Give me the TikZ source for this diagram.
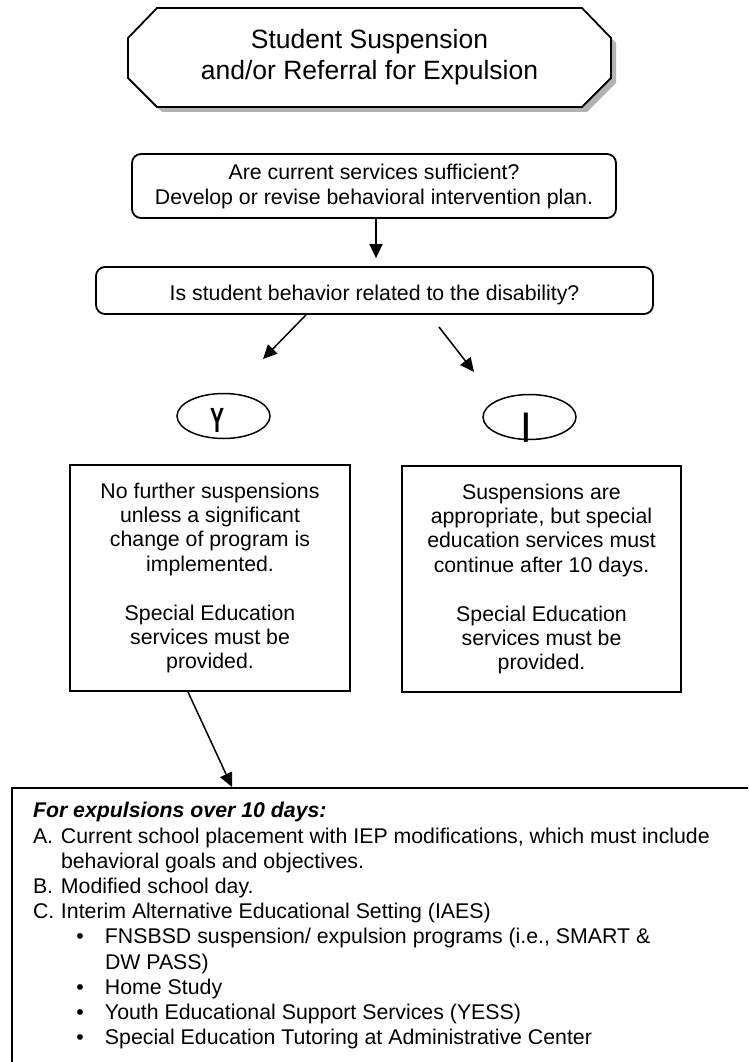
\documentclass[tikz,border=0pt]{standalone}
\usepackage{fontspec}
\setmainfont{Liberation Sans}
\usetikzlibrary{arrows.meta,calc,shapes.geometric}
\begin{document}
\begin{tikzpicture}[x=1pt,y=-1pt,
  rbox/.style={draw, line width=1.8pt, rounded corners=9pt, fill=white, inner sep=0pt, align=center, font=\fontsize{21.3pt}{25pt}\selectfont},
  sbox/.style={draw, line width=2pt, inner sep=0pt, align=center, minimum width=280pt, minimum height=226pt, font=\fontsize{21.3pt}{24.4pt}\selectfont},
  oval/.style={draw, ellipse, line width=1.5pt, minimum width=93pt, minimum height=45pt, inner sep=0pt},
  arr/.style={line width=1.5pt, -{Triangle[length=14pt,width=13pt]}},
  octline/.style={draw, line width=1.8pt, fill=white},
  shadowfill/.style={fill=gray!60},
]
\useasboundingbox (0,0) rectangle (748,1062);
\clip (0,0) rectangle (748,1062);

% title octagon with shadow
\begin{scope}[shift={(5,5)}]
  \path[shadowfill] (157,8) -- (582,8) -- (611,38) -- (611,78) -- (582,107) -- (157,107) -- (128,78) -- (128,38) -- cycle;
\end{scope}
\path[octline] (157,8) -- (582,8) -- (611,38) -- (611,78) -- (582,107) -- (157,107) -- (128,78) -- (128,38) -- cycle;
\node[align=center, font=\fontsize{26.5pt}{31pt}\selectfont] (title) at (369.5,57.5)
  {Student Suspension\\and/or Referral for Expulsion};

% question boxes
\node[rbox, minimum width=484pt, minimum height=64pt] (q1) at (374,186)
  {Are current services sufficient?\\Develop or revise behavioral intervention plan.};
\node[rbox, minimum width=557pt, minimum height=47pt, text height=19pt, text depth=0pt] (q2) at (374.5,290.5)
  {Is student behavior related to the disability?};

% answer ovals
\node[oval] (yes) at (223.5,416) {};
\node[oval] (no) at (529.5,417) {};
\node[inner sep=0pt, font=\fontsize{35pt}{35pt}\selectfont\bfseries] (ymark) at (218,420.5) {\scalebox{0.6}[1]{Y}};
\node[inner sep=0pt, font=\fontsize{31pt}{31pt}\selectfont\bfseries] (nmark) at (526,427.5) {|};

% outcome boxes
\node[sbox] (lbox) at (210,578)
  {No further suspensions\\unless a significant\\change of program is\\implemented.\\[24.4pt]Special Education\\services must be\\provided.};
\node[sbox, minimum width=279pt] (rbox) at (541.5,579)
  {Suspensions are\\appropriate, but special\\education services must\\continue after 10 days.\\[24.4pt]Special Education\\services must be\\provided.};

% options box
\node[draw, line width=2pt, anchor=north west, inner xsep=21pt, inner ysep=14.5pt,
      font=\fontsize{21.3pt}{25.2pt}\selectfont] (opts) at (11,787)
  {\begin{minipage}[t][280pt][t]{740pt}\raggedright\parindent=0pt
   \textbf{\textit{For expulsions over 10 days:}}\\
   \makebox[28pt][l]{A.}Current school placement with IEP modifications, which must include\\
   \hspace*{28pt}behavioral goals and objectives.\\
   \makebox[28pt][l]{B.}Modified school day.\\
   \makebox[28pt][l]{C.}Interim Alternative Educational Setting (IAES)\\
   \hspace*{43.5pt}\makebox[28.5pt][l]{\textbullet}FNSBSD suspension/ expulsion programs (i.e., SMART \&\\
   \hspace*{72pt}DW PASS)\\
   \hspace*{43.5pt}\makebox[28.5pt][l]{\textbullet}Home Study\\
   \hspace*{43.5pt}\makebox[28.5pt][l]{\textbullet}Youth Educational Support Services (YESS)\\
   \hspace*{43.5pt}\makebox[28.5pt][l]{\textbullet}Special Education Tutoring at Administrative Center
   \end{minipage}};

% connectors
\coordinate (ltip) at (263,359);
\coordinate (rstart) at (439,327);
\coordinate (rtip) at (474,372);
\draw[arr, shorten >=8pt] ($(q1.south)+(2,0)$) -- ($(q2.north)+(1.5,0)$);
\draw[arr] ($(q2.south)+(-68.5,0)$) -- (ltip);
\draw[arr] (rstart) -- (rtip);
\draw[arr] ($(lbox.south)+(-22,0)$) -- ($(opts.north west)+(221,0)$);
\end{tikzpicture}
\end{document}
